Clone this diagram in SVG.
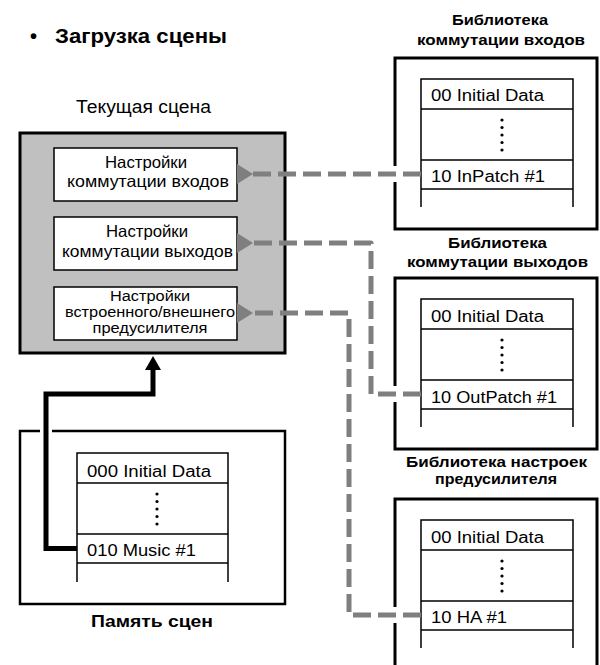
<svg xmlns="http://www.w3.org/2000/svg" width="600" height="665" viewBox="0 0 600 665">
<defs>
<style>
text{font-family:"Liberation Sans",Arial,sans-serif;fill:#000}
.b{font-weight:bold}
.c{text-anchor:middle}
.outer{fill:#fff;stroke:#000;stroke-width:3}
.list{fill:none;stroke:#000;stroke-width:1.5}
.set{fill:#fff;stroke:#000;stroke-width:1.5}
.dash{fill:none;stroke:#7f7f7f;stroke-width:5;stroke-dasharray:18 7;stroke-linejoin:round}
.li{font-size:16px}
.st{font-size:16.5px}
.lt{font-size:15px;font-weight:bold}
</style>
<marker id="ga" markerWidth="4" markerHeight="4" refX="0" refY="2" orient="auto" markerUnits="strokeWidth">
<path d="M0,2 L3.2,0 L3.2,4 Z" fill="#7f7f7f"/>
</marker>
<g id="dots">
<circle cx="0" cy="0" r="1.6"/><circle cx="0" cy="7.5" r="1.6"/><circle cx="0" cy="15" r="1.6"/><circle cx="0" cy="22.5" r="1.6"/><circle cx="0" cy="30" r="1.6"/>
</g>
</defs>

<text x="30" y="43" class="b" font-size="20">•</text>
<text x="55" y="43" class="b" font-size="20" textLength="172" lengthAdjust="spacingAndGlyphs">Загрузка сцены</text>

<g id="current-scene">
<text x="143.5" y="113" class="c" font-size="17.5" textLength="135" lengthAdjust="spacingAndGlyphs">Текущая сцена</text>
<rect x="20" y="133" width="265" height="220" fill="#c0c0c0" stroke="#000" stroke-width="3"/>
<g id="in-settings">
<rect class="set" x="54" y="148" width="183" height="53"/>
<text x="146" y="168" class="c st" textLength="82" lengthAdjust="spacingAndGlyphs">Настройки</text>
<text x="148" y="187" class="c st" textLength="162" lengthAdjust="spacingAndGlyphs">коммутации входов</text>
</g>
<g id="out-settings">
<rect class="set" x="54" y="217" width="183" height="53"/>
<text x="147" y="237" class="c st" textLength="82" lengthAdjust="spacingAndGlyphs">Настройки</text>
<text x="147.5" y="257" class="c st" textLength="171" lengthAdjust="spacingAndGlyphs">коммутации выходов</text>
</g>
<g id="ha-settings">
<rect class="set" x="54" y="287" width="183" height="53"/>
<text x="150" y="301" class="c" font-size="14" textLength="80" lengthAdjust="spacingAndGlyphs">Настройки</text>
<text x="150" y="317" class="c" font-size="14" textLength="170" lengthAdjust="spacingAndGlyphs">встроенного/внешнего</text>
<text x="150" y="333" class="c" font-size="14" textLength="115" lengthAdjust="spacingAndGlyphs">предусилителя</text>
</g>
</g>

<g id="in-library">
<text x="500" y="25" class="c lt" textLength="96" lengthAdjust="spacingAndGlyphs">Библиотека</text>
<text x="501" y="45" class="c lt" textLength="168" lengthAdjust="spacingAndGlyphs">коммутации входов</text>
<rect class="outer" x="395" y="58" width="202" height="171"/>
<path class="list" d="M421,207 V79 H573 V207 M421,109 H573 M421,160 H573 M421,189 H573"/>
<text x="431" y="101" class="li" textLength="113" lengthAdjust="spacingAndGlyphs">00 Initial Data</text>
<use href="#dots" x="502" y="120"/>
<text x="431" y="182" class="li" textLength="114" lengthAdjust="spacingAndGlyphs">10 InPatch #1</text>
</g>

<g id="out-library">
<text x="497.5" y="248" class="c lt" textLength="99" lengthAdjust="spacingAndGlyphs">Библиотека</text>
<text x="497.5" y="267" class="c lt" textLength="181" lengthAdjust="spacingAndGlyphs">коммутации выходов</text>
<rect class="outer" x="395" y="278" width="202" height="171"/>
<path class="list" d="M421,427 V299 H573 V427 M421,329 H573 M421,380 H573 M421,409 H573"/>
<text x="431" y="322" class="li" textLength="113" lengthAdjust="spacingAndGlyphs">00 Initial Data</text>
<use href="#dots" x="502" y="340"/>
<text x="431" y="403" class="li" textLength="126" lengthAdjust="spacingAndGlyphs">10 OutPatch #1</text>
</g>

<g id="ha-library">
<text x="496.5" y="467" class="c lt" textLength="181" lengthAdjust="spacingAndGlyphs">Библиотека настроек</text>
<text x="496" y="484" class="c lt" textLength="122" lengthAdjust="spacingAndGlyphs">предусилителя</text>
<rect class="outer" x="395" y="499" width="202" height="180"/>
<path class="list" d="M421,648 V520 H573 V648 M421,550 H573 M421,601 H573 M421,630 H573"/>
<text x="431" y="543" class="li" textLength="113" lengthAdjust="spacingAndGlyphs">00 Initial Data</text>
<use href="#dots" x="502" y="561"/>
<text x="431" y="623" class="li" textLength="76" lengthAdjust="spacingAndGlyphs">10 HA #1</text>
</g>

<g id="scene-memory">
<rect x="20" y="431" width="265" height="173" fill="#fff" stroke="#000" stroke-width="2.5"/>
<path class="list" d="M77,582 V453 H228 V582 M77,483 H228 M77,534 H228 M77,563 H228"/>
<text x="87" y="477" class="li" textLength="124" lengthAdjust="spacingAndGlyphs">000 Initial Data</text>
<use href="#dots" x="157" y="494"/>
<text x="87" y="556" class="li" textLength="109" lengthAdjust="spacingAndGlyphs">010 Music #1</text>
<text x="152" y="627" class="b c" font-size="17" textLength="122" lengthAdjust="spacingAndGlyphs">Память сцен</text>
</g>

<g id="connectors">
<rect x="390" y="166" width="10" height="16" fill="#fff"/>
<rect x="390" y="386" width="10" height="16" fill="#fff"/>
<rect x="390" y="607" width="10" height="16" fill="#fff"/>
<rect x="40" y="427" width="12" height="8" fill="#fff"/>
<path class="dash" d="M421,174 H253" marker-end="url(#ga)"/>
<path class="dash" d="M421,394 H371 V243 H253" marker-end="url(#ga)"/>
<path class="dash" d="M421,615 H349 V313 H253" marker-end="url(#ga)"/>
<path d="M77,548.5 H46 V394 H153 V368" fill="none" stroke="#000" stroke-width="5" stroke-linejoin="miter"/>
<path d="M153,356 L145,370 L161,370 Z" fill="#000"/>
</g>
</svg>
